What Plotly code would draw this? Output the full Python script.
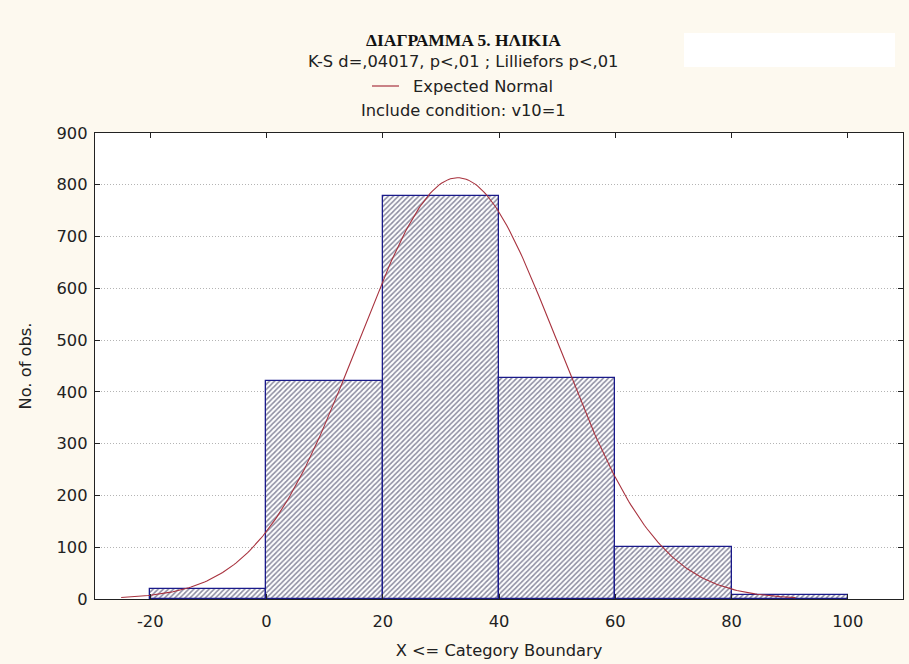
import numpy as np
import plotly.graph_objects as go

# Histogram of age (category upper boundaries, width 20)
bin_left = [-20, 0, 20, 40, 60, 80]
bin_width = 20
counts = [20, 421, 779, 427, 100, 7]

# Expected normal fit parameters
fit_mean = 32.9
fit_sd = 17.2
curve_from, curve_to = -25.0, 91.0

x_ticks = [-20, 0, 20, 40, 60, 80, 100]
y_ticks = [0, 100, 200, 300, 400, 500, 600, 700, 800, 900]

n_total = sum(counts)
mids = [b + bin_width / 2 for b in bin_left]
xs = np.linspace(curve_from, curve_to, 300)
ys = n_total * bin_width / (fit_sd * np.sqrt(2 * np.pi)) * np.exp(-0.5 * ((xs - fit_mean) / fit_sd) ** 2)

PAPER = "#FDF9EF"
FONT = "DejaVu Sans, Verdana, sans-serif"
FS = 16.3
CURVE = "#A8323E"

fig = go.Figure()
fig.add_trace(go.Bar(
    x=mids, y=counts, width=[bin_width] * len(mids),
    marker=dict(
        color="white",
        line=dict(color="#1A1A8A", width=1.3),
        pattern=dict(shape="/", fgcolor="#1C1C44", bgcolor="white", size=3.6, solidity=0.45),
    ),
    showlegend=False, hoverinfo="x+y",
))
fig.add_trace(go.Scatter(
    x=xs, y=ys, mode="lines", line=dict(color=CURVE, width=1.1),
    name="Expected Normal", showlegend=False,
))

W, H = 909, 664
L, R, T, B = 95, 6, 133, 65
pw = W - L - R


def px_x(p):
    return (p - L) / pw


ph = H - T - B


def px_y(p):
    return (H - B - p) / ph


cx = px_x(463)
annots = [
    dict(text="<b>ΔΙΑΓΡΑΜΜΑ 5. ΗΛΙΚΙΑ</b>", x=cx, y=px_y(40),
         font=dict(family="Liberation Serif, Times New Roman, serif", size=17.5, color="#111")),
    dict(text="K-S d=,04017, p<,01 ; Lilliefors p<,01", x=cx, y=px_y(62),
         font=dict(family=FONT, size=FS, color="#222")),
    dict(text="Expected Normal", x=px_x(483), y=px_y(86),
         font=dict(family=FONT, size=FS, color="#222")),
    dict(text="Include condition: v10=1", x=cx, y=px_y(110),
         font=dict(family=FONT, size=FS, color="#222")),
]
for a in annots:
    a.update(xref="paper", yref="paper", showarrow=False, xanchor="center", yanchor="middle")

fig.update_layout(
    width=W, height=H,
    margin=dict(l=L, r=R, t=T, b=B),
    paper_bgcolor=PAPER, plot_bgcolor="white",
    font=dict(family=FONT, size=FS, color="#222"),
    bargap=0,
    annotations=annots,
    shapes=[
        dict(type="line", xref="paper", yref="paper",
             x0=px_x(372), x1=px_x(399), y0=px_y(86), y1=px_y(86),
             line=dict(color=CURVE, width=1.2)),
        dict(type="rect", xref="paper", yref="paper",
             x0=px_x(684), x1=px_x(895), y0=px_y(33), y1=px_y(67),
             fillcolor="white", line=dict(width=0), layer="below"),
    ],
    xaxis=dict(
        range=[-29.5, 109.5], tickvals=x_ticks, ticktext=[str(v) for v in x_ticks],
        showgrid=False, zeroline=False,
        showline=True, mirror="ticks", linecolor="#222", linewidth=1.3,
        ticks="inside", ticklen=5, tickcolor="#222",
        ticklabelstandoff=7,
        title=dict(text="X <= Category Boundary", standoff=14, font=dict(size=FS)),
        tickfont=dict(size=FS),
    ),
    yaxis=dict(
        range=[0, 900], tickvals=y_ticks, ticktext=[str(v) for v in y_ticks],
        showgrid=True, gridcolor="#B4B4B4", griddash="1px,2px", gridwidth=1,
        zeroline=False,
        showline=True, mirror="ticks", linecolor="#222", linewidth=1.3,
        ticks="inside", ticklen=5, tickcolor="#222",
        ticklabelstandoff=3,
        title=dict(text="No. of obs.", standoff=20, font=dict(size=FS)),
        tickfont=dict(size=FS),
    ),
)

fig.write_html("out.html")
